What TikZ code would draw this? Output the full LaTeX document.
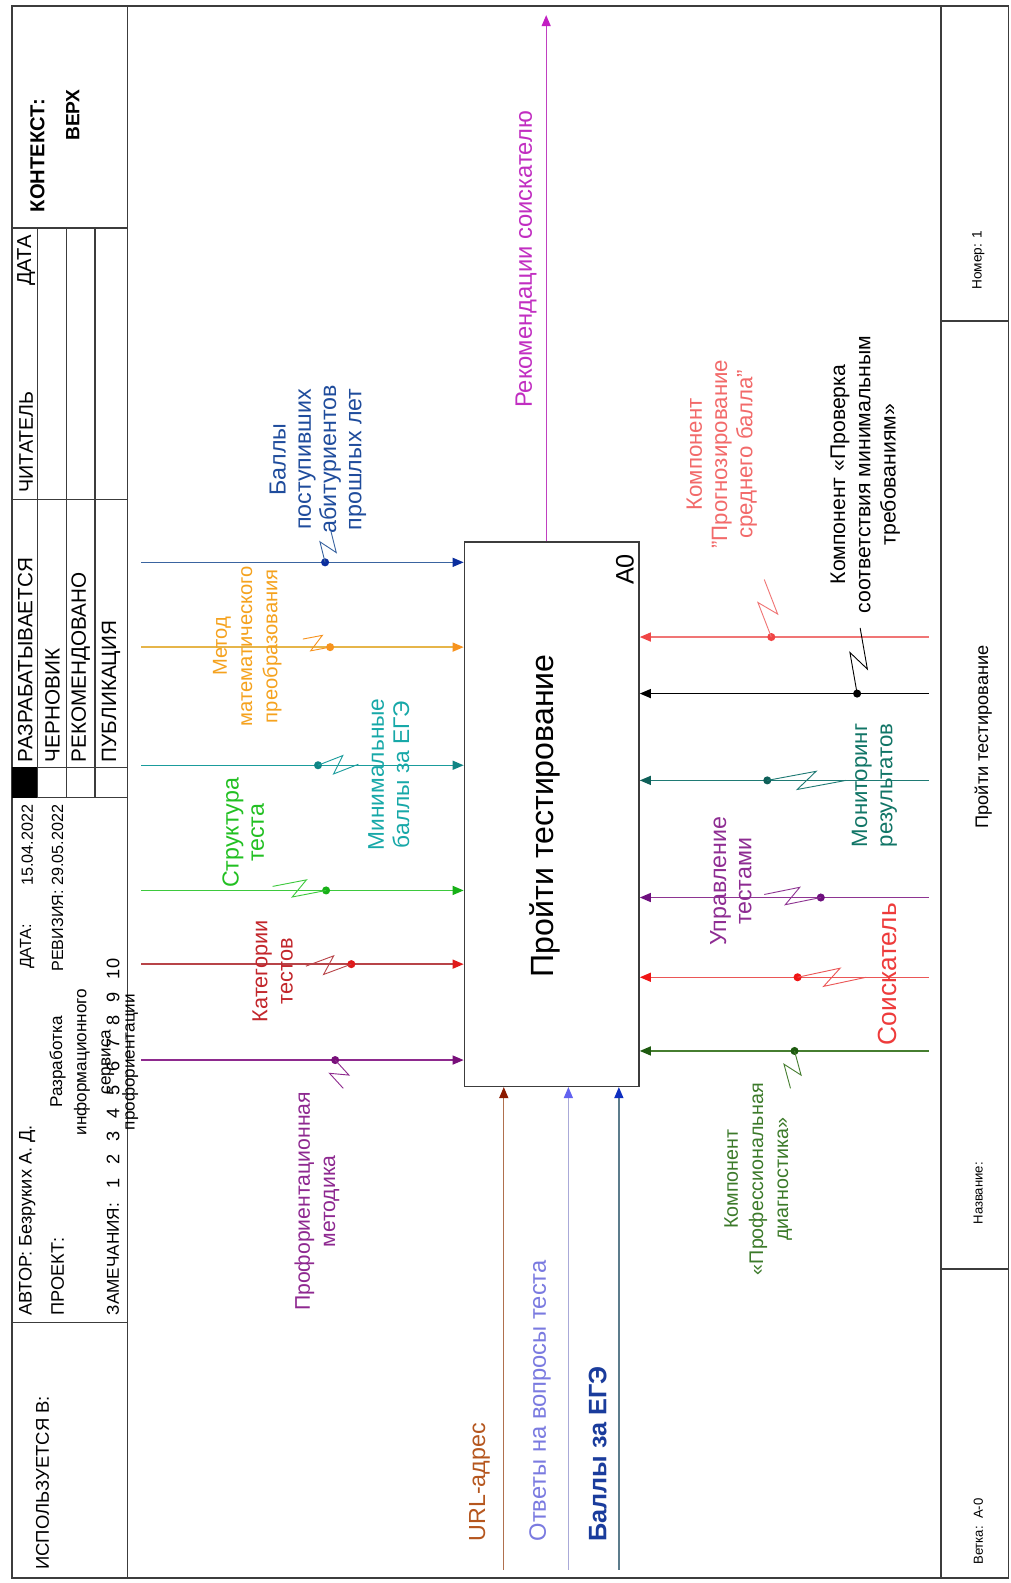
\documentclass[tikz,border=0pt]{standalone}
\usepackage{fontspec}
\setmainfont{Liberation Sans}
\usetikzlibrary{arrows.meta,calc}

\definecolor{frameC}{HTML}{3C3C3C}
\definecolor{cBlueL}{HTML}{3A64A0}\definecolor{cBlueD}{HTML}{0B2E9E}\definecolor{cBlueT}{HTML}{1F4C9C}
\definecolor{cOrL}{HTML}{E6B54A}\definecolor{cOrD}{HTML}{F7931E}\definecolor{cOrT}{HTML}{F5A21E}
\definecolor{cTealL}{HTML}{1A9C9C}\definecolor{cTealD}{HTML}{0F8585}\definecolor{cTealT}{HTML}{17A8A8}
\definecolor{cGrL}{HTML}{3DC93D}\definecolor{cGrD}{HTML}{17B017}\definecolor{cGrT}{HTML}{22C022}
\definecolor{cRbL}{HTML}{B84448}\definecolor{cRbD}{HTML}{E01A1A}\definecolor{cRbT}{HTML}{C2262B}
\definecolor{cPuL}{HTML}{8E2A8E}\definecolor{cPuD}{HTML}{780F7A}\definecolor{cPuT}{HTML}{8E2890}
\definecolor{cMgL}{HTML}{C040C0}\definecolor{cMgD}{HTML}{C21EC2}\definecolor{cMgT}{HTML}{C12EC1}
\definecolor{cUrlL}{HTML}{B0704E}\definecolor{cUrlD}{HTML}{8C1A00}\definecolor{cUrlT}{HTML}{B5561E}
\definecolor{cAnsL}{HTML}{AAAAD8}\definecolor{cAnsD}{HTML}{6262F0}\definecolor{cAnsT}{HTML}{7A7AE0}
\definecolor{cEgeL}{HTML}{5C7C8C}\definecolor{cEgeD}{HTML}{0E2EC0}\definecolor{cEgeT}{HTML}{1A3C9C}
\definecolor{cSaL}{HTML}{F07575}\definecolor{cSaD}{HTML}{F04545}\definecolor{cSaT}{HTML}{F26A6A}
\definecolor{cBkL}{HTML}{000000}
\definecolor{cDtL}{HTML}{1F7A74}\definecolor{cDtD}{HTML}{0E5F58}\definecolor{cDtT}{HTML}{117566}
\definecolor{cVuL}{HTML}{8E3592}\definecolor{cVuD}{HTML}{6E0F7E}\definecolor{cVuT}{HTML}{8E2C92}
\definecolor{cRdL}{HTML}{EB5656}\definecolor{cRdD}{HTML}{F01515}\definecolor{cRdT}{HTML}{EE3B3B}
\definecolor{cDgL}{HTML}{467E30}\definecolor{cDgD}{HTML}{1E5A10}\definecolor{cDgT}{HTML}{3C7A2A}

\newcommand\zzline[3]{\draw[#3, line width=0.9pt] (#1) -- ($(#1)!0.62!(#2)!9pt!90:(#2)$) -- ($(#1)!0.38!(#2)!9pt!-90:(#2)$) -- (#2);}
\newcommand\fs[1]{\fontsize{#1}{25}\selectfont}

\tikzset{
  frm/.style={draw=frameC, line width=1.4pt},
  lbl/.style={rotate=90, align=center, inner sep=0pt, font=\fontsize{21}{25}\selectfont},
  hdr/.style={rotate=90, inner sep=0pt, font=\fontsize{16}{19}\selectfont},
  hdrM/.style={rotate=90, inner sep=0pt, font=\fontsize{18}{21}\selectfont},
  hdrL/.style={rotate=90, inner sep=0pt, font=\fontsize{20.5}{23}\selectfont},
  ftr/.style={rotate=90, inner sep=0pt, font=\fontsize{13.5}{16}\selectfont},
  jdot/.style={circle, fill=#1, inner sep=0pt, minimum size=8pt},
  arr/.style={line width=1.3pt, -{Triangle[length=11pt,width=9pt,color=#1]}},
}

\begin{document}
\begin{tikzpicture}[x=1pt,y=-1pt]
\useasboundingbox (0,0) rectangle (1001,1568);
\fill[white] (0,0) rectangle (1001,1568);

% ---------- frame ----------
\draw[frm] (12,6) rectangle (999,1563);
\draw[frm] (126,6) -- (126,1563);
\draw[frm] (932,6) -- (932,1563);
\draw[frm] (932,318) -- (999,318);
\draw[frm] (932,1257) -- (999,1257);
% header grid
\draw[frm] (12,226) -- (126,226);
\draw[frm] (12,495) -- (126,495);
\draw[frm] (12,760) -- (126,760);
\draw[frm] (37,790) -- (126,790);
\draw[frm] (12,1310) -- (126,1310);
\draw[frm] (37,226) -- (37,790);
\draw[frm] (66,226) -- (66,790);
\draw[frm] (94,226) -- (94,790);
\fill[black] (12,760) rectangle (37,790);

% ---------- header texts ----------
\node[hdrL, font=\fontsize{20}{23}\selectfont\bfseries] (ctx) at (37,154) {КОНТЕКСТ:};
\node[hdrL, font=\fontsize{19}{22}\selectfont\bfseries] (verh) at (72,114) {ВЕРХ};
\node[hdrL, font=\fontsize{20}{23}\selectfont] (hdata) at (26,258) {ДАТА};
\node[hdrL, anchor=west, font=\fontsize{19.5}{23}\selectfont] (hchit) at (26,488) {ЧИТАТЕЛЬ};
\node[hdrL, anchor=west] (st1) at (25,755) {РАЗРАБАТЫВАЕТСЯ};
\node[hdrL, anchor=west] (st2) at (52,755) {ЧЕРНОВИК};
\node[hdrL, anchor=west] (st3) at (80,755) {РЕКОМЕНДОВАНО};
\node[hdrL, anchor=west] (st4) at (110,755) {ПУБЛИКАЦИЯ};
\node[hdr, anchor=west] (hd1) at (27,960) {ДАТА:};
\node[hdr, anchor=east] (hd2) at (27,797) {15.04.2022};
\node[hdr, anchor=east] (hd3) at (57,797) {РЕВИЗИЯ: 29.05.2022};
\node[hdrM, anchor=west] (hauth) at (27,1303) {АВТОР: Безруких А. Д.};
\node[hdrM, anchor=west] (hproj) at (57,1303) {ПРОЕКТ:};
\node[hdrM, align=center, font=\fontsize{17}{24}\selectfont] (hprojn) at (93,1052) {Разработка\\информационного\\сервиса\\профориентации};
\node[hdrM, anchor=west, font=\fontsize{17}{20}\selectfont] (hrem) at (112,1303) {ЗАМЕЧАНИЯ:};
\node[hdrM, anchor=west] (hnums) at (112,1177) {1\hspace{13pt}2\hspace{13pt}3\hspace{13pt}4\hspace{13pt}5\hspace{13pt}6\hspace{13pt}7\hspace{13pt}8\hspace{13pt}9\hspace{13pt}10};
\node[hdrM, anchor=west, font=\fontsize{18.3}{21}\selectfont] (hused) at (42,1555) {ИСПОЛЬЗУЕТСЯ В:};

% ---------- footer texts ----------
\node[ftr] (fnum) at (969,258) {Номер: 1};
\node[ftr, font=\fontsize{18}{21}\selectfont] (ftit) at (974,730) {Пройти тестирование};
\node[ftr, font=\fontsize{13}{16}\selectfont] (fname) at (969,1182) {Название:};
\node[ftr, font=\fontsize{13}{16}\selectfont] (fnode) at (969,1517) {Ветка:\ \ А-0};

% ---------- activity box ----------
\node[draw=frameC, line width=1.5pt, minimum width=173pt, minimum height=539pt, inner sep=0pt] (box) at (546.5,806.5) {};
\node[rotate=90, inner sep=0pt, font=\fontsize{31.8}{36}\selectfont] (title) at (540,808) {Пройти тестирование};
\node[rotate=90, inner sep=0pt, font=\fontsize{25}{28}\selectfont] (a0) at (619,564) {A0};

% ---------- inputs (left) ----------
\coordinate (in1) at (140,557);
\coordinate (in2) at (140,641);
\coordinate (in3) at (140,758);
\coordinate (in4) at (140,882);
\coordinate (in5) at (140,955);
\coordinate (in6) at (140,1050);
\draw[cBlueL, arr=cBlueD] (in1) -- (in1 -| box.west);
\draw[cOrL, arr=cOrD] (in2) -- (in2 -| box.west);
\draw[cTealL, arr=cTealD] (in3) -- (in3 -| box.west);
\draw[cGrL, arr=cGrD] (in4) -- (in4 -| box.west);
\draw[cRbL, arr=cRbD] (in5) -- (in5 -| box.west);
\draw[cPuL, arr=cPuD] (in6) -- (in6 -| box.west);

\node[jdot=cBlueD] (d1) at (322,557) {};
\node[jdot=cOrD] (d2) at (327,641) {};
\node[jdot=cTealD] (d3) at (315,758) {};
\node[jdot=cGrD] (d4) at (323,882) {};
\node[jdot=cRbD] (d5) at (348,955) {};
\node[jdot=cPuD] (d6) at (332,1050) {};
\coordinate (e1) at (328,527);
\coordinate (e2) at (300,633);
\coordinate (e3) at (355,757);
\coordinate (e4) at (270,878);
\coordinate (e5) at (303,957);
\coordinate (e6) at (340,1078);
\zzline{d1.center}{e1}{cBlueL}
\zzline{d2.center}{e2}{cOrD}
\zzline{d3.center}{e3}{cTealL}
\zzline{d4.center}{e4}{cGrL}
\zzline{d5.center}{e5}{cRbL}
\zzline{d6.center}{e6}{cPuL}

\node[lbl, text=cBlueT, font=\fs{23}] (t1) at (315,455) {Баллы\\поступивших\\абитуриентов\\прошлых лет};
\node[lbl, text=cOrT, font=\fs{20}] (t2) at (245,640) {Метод\\математического\\преобразования};
\node[lbl, text=cTealT, font=\fs{22.5}] (t3) at (385,767) {Минимальные\\баллы за ЕГЭ};
\node[lbl, text=cGrT, font=\fs{23}] (t4) at (241,825) {Структура\\теста};
\node[lbl, text=cRbT, font=\fs{21.5}] (t5) at (270,962) {Категории\\тестов};
\node[lbl, text=cPuT, font=\fs{21}] (t6) at (314,1190) {Профориентационная\\методика};

% ---------- output (top) ----------
\coordinate (out1) at (541,15);
\draw[cMgL, arr=cMgD] (box.north -| out1) -- (out1);
\node[lbl, text=cMgT, font=\fs{23.5}] (to1) at (521,257) {Рекомендации соискателю};

% ---------- mechanisms (bottom) ----------
\coordinate (m1) at (499,1555);
\coordinate (m2) at (563,1555);
\coordinate (m3) at (613,1555);
\draw[cUrlL, arr=cUrlD] (m1) -- (m1 |- box.south);
\draw[cAnsL, arr=cAnsD] (m2) -- (m2 |- box.south);
\draw[cEgeL, arr=cEgeD] (m3) -- (m3 |- box.south);
\node[lbl, anchor=west, text=cUrlT, font=\fs{23}] (tm1) at (475,1527) {URL-адрес};
\node[lbl, anchor=west, text=cAnsT, font=\fs{23.5}] (tm2) at (535,1527) {Ответы на вопросы теста};
\node[lbl, anchor=west, text=cEgeT, font=\fontsize{25}{28}\selectfont\bfseries] (tm3) at (592,1527) {Баллы за ЕГЭ};

% ---------- controls (right) ----------
\coordinate (c1) at (920,631);
\coordinate (c2) at (920,687);
\coordinate (c3) at (920,773);
\coordinate (c4) at (920,889);
\coordinate (c5) at (920,968);
\coordinate (c6) at (920,1041);
\draw[cSaL, arr=cSaD] (c1) -- (c1 -| box.east);
\draw[cBkL, arr=black] (c2) -- (c2 -| box.east);
\draw[cDtL, arr=cDtD] (c3) -- (c3 -| box.east);
\draw[cVuL, arr=cVuD] (c4) -- (c4 -| box.east);
\draw[cRdL, arr=cRdD] (c5) -- (c5 -| box.east);
\draw[cDgL, arr=cDgD] (c6) -- (c6 -| box.east);

\node[jdot=cSaD] (k1) at (764,631) {};
\node[jdot=black] (k2) at (849,687) {};
\node[jdot=cDtD] (k3) at (760,773) {};
\node[jdot=cVuD] (k4) at (813,889) {};
\node[jdot=cRdD] (k5) at (790,968) {};
\node[jdot=cDgD] (k6) at (787,1041) {};
\coordinate (f1) at (757,574);
\coordinate (f2) at (852,622);
\coordinate (f3) at (838,773);
\coordinate (f4) at (757,886);
\coordinate (f5) at (858,968);
\coordinate (f6) at (783,1078);
\zzline{k1.center}{f1}{cSaL}
\zzline{k2.center}{f2}{black}
\zzline{k3.center}{f3}{cDtL}
\zzline{k4.center}{f4}{cVuL}
\zzline{k5.center}{f5}{cRdL}
\zzline{k6.center}{f6}{cDgL}

\node[lbl, text=cSaT, font=\fs{22}] (r1) at (715,450) {Компонент\\"Прогнозирование\\среднего балла"};
\node[lbl, text=black, font=\fs{21}] (r2) at (857,470) {Компонент «Проверка\\соответствия минимальным\\требованиям»};
\node[lbl, text=cDtT, font=\fs{22}] (r3) at (866,778) {Мониторинг\\результатов};
\node[lbl, text=cVuT, font=\fs{23}] (r4) at (724,873) {Управление\\тестами};
\node[lbl, text=cRdT, font=\fontsize{26}{30}\selectfont] (r5) at (879,965) {Соискатель};
\node[lbl, text=cDgT, font=\fs{19.5}] (r6) at (751,1168) {Компонент\\«Профессиональная\\диагностика»};
\end{tikzpicture}
\end{document}
